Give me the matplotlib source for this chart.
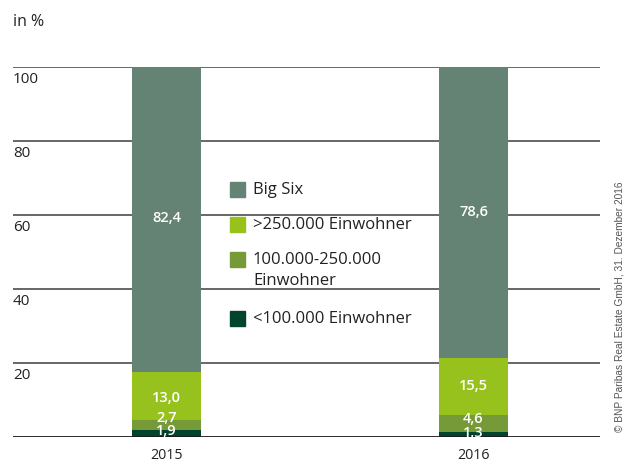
import matplotlib
matplotlib.use("Agg")
import matplotlib.pyplot as plt
from matplotlib.patches import Rectangle

plt.rcParams['font.family'] = ['Open Sans', 'DejaVu Sans']

years = ["2015", "2016"]
series = ["<100.000 Einwohner", "100.000-250.000\nEinwohner", ">250.000 Einwohner", "Big Six"]
values = {
    "<100.000 Einwohner": [1.9, 1.3],
    "100.000-250.000\nEinwohner": [2.7, 4.6],
    ">250.000 Einwohner": [13.0, 15.5],
    "Big Six": [82.4, 78.6],
}
colors = {
    "<100.000 Einwohner": "#00432f",
    "100.000-250.000\nEinwohner": "#779a38",
    ">250.000 Einwohner": "#97c21d",
    "Big Six": "#648374",
}
# small upward nudges (in pixels) so tiny segments' labels do not overlap
label_nudge = {
    "<100.000 Einwohner": [2, 2],
    "100.000-250.000\nEinwohner": [7, 5],
    ">250.000 Einwohner": [-2, 0],
    "Big Six": [1, 0],
}
yticks = [0, 20, 40, 60, 80, 100]

W, H = 638, 463
fig = plt.figure(figsize=(W / 100, H / 100), dpi=100)
ax = fig.add_axes([13 / W, (H - 437) / H, (600 - 13) / W, (437 - 67) / H])
ax.set_xlim(-0.5, 1.412)
ax.set_ylim(0, 100)
ax.axis("off")

x = list(range(len(years)))
bottom = [0.0] * len(years)
for s in series:
    vals = values[s]
    ax.bar(x, vals, width=0.225, bottom=bottom, color=colors[s], zorder=2, linewidth=0)
    for i, v in enumerate(vals):
        yc = bottom[i] + v / 2
        ax.annotate(f"{v:.1f}".replace(".", ","), (x[i], yc), xytext=(0, label_nudge[s][i] * 0.72),
                    textcoords="offset points", ha="center", va="center",
                    color="white", fontsize=10.5, fontweight="semibold", zorder=4)
    bottom = [b + v for b, v in zip(bottom, vals)]

# horizontal grid lines behind bars, tick labels beneath each line
for t in yticks:
    if t == 0:
        ax.axhline(t, color="#1a1a1a", lw=1.3, zorder=3)
    else:
        ax.axhline(t, color="#4d4d4d", lw=1.2, zorder=1)
        ax.annotate(str(t), (0, t), xycoords=("axes fraction", "data"), xytext=(0, -3.5),
                    textcoords="offset points", ha="left", va="top",
                    fontsize=11, color="#222222")

for i, yr in enumerate(years):
    ax.annotate(yr, (x[i], 0), xytext=(0, -13), textcoords="offset points",
                ha="center", va="center", fontsize=10.3, color="#222222")

fig.text(13 / W, 1 - 22 / H, "in %", ha="left", va="center", fontsize=11.5, color="#222222")

# legend drawn manually so the square aligns with the first text line
legend_items = [("Big Six", 189), (">250.000 Einwohner", 224),
                ("100.000-250.000\nEinwohner", 259), ("<100.000 Einwohner", 318)]
for name, yc in legend_items:
    fig.patches.append(Rectangle((230 / W, 1 - (yc + 7.5) / H), 15 / W, 15 / H,
                                 transform=fig.transFigure, color=colors[name]))
    fig.text(253 / W, 1 - (yc - 7) / H, name, ha="left", va="top",
             fontsize=12, color="#222222", linespacing=1.45)

fig.text(620 / W, 1 - 307 / H, "© BNP Paribas Real Estate GmbH, 31. Dezember 2016",
         rotation=90, ha="center", va="center", fontsize=7.3, color="#555555",
         family=["Liberation Sans", "DejaVu Sans"])

fig.savefig("out.png", dpi=100)
